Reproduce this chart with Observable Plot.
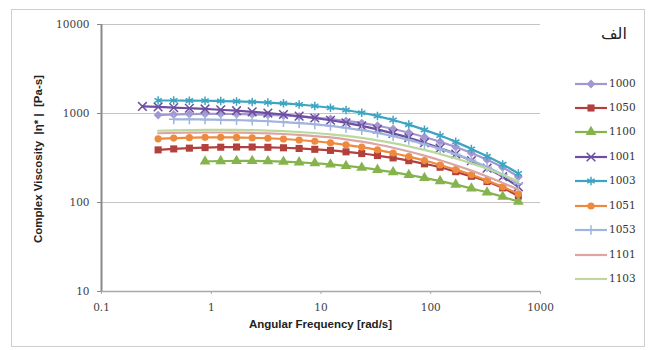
<!DOCTYPE html>
<html><head><meta charset="utf-8">
<script src="https://cdn.jsdelivr.net/npm/d3@7"></script>
<script src="https://cdn.jsdelivr.net/npm/@observablehq/plot@0.6"></script>
<style>
body{margin:0;background:#fff;}
#wrap{position:relative;width:654px;height:350px;overflow:hidden;background:#fff;}
#frame{position:absolute;left:11px;top:9px;width:634px;height:338px;border:1px solid #cfcfcf;box-sizing:border-box;}
#chart{position:absolute;left:0;top:0;}
#title{position:absolute;left:601px;top:24px;font-family:"DejaVu Sans",sans-serif;font-size:16px;color:#222;direction:rtl;}
#xlabel{position:absolute;left:0;width:641px;top:318px;text-align:center;font-family:"Liberation Sans",Arial,sans-serif;font-weight:bold;font-size:11.5px;color:#222;}
#ylabel{position:absolute;left:38px;top:159px;transform:translate(-50%,-50%) rotate(-90deg);white-space:nowrap;font-family:"Liberation Sans",Arial,sans-serif;font-weight:bold;font-size:11.5px;color:#222;}
#legend{position:absolute;left:572px;top:0;}
.li{position:absolute;left:0;height:16px;width:80px;}
.li svg{position:absolute;left:0;top:0;}
.li span{position:absolute;left:37px;top:1px;font-family:"DejaVu Serif",serif;font-size:10.5px;color:#333;}
</style></head>
<body>
<div id="wrap"><div id="frame"></div><div id="chart"></div><div id="title">الف</div>
<div id="xlabel">Angular Frequency [rad/s]</div>
<div id="ylabel">Complex Viscosity&nbsp; |η* |&nbsp; [Pa-s]</div>
<div id="legend"></div></div>
<script>
const freqs=[0.236,0.328,0.455,0.632,0.878,1.22,1.70,2.36,3.28,4.55,6.32,8.78,12.2,16.9,23.5,32.7,45.4,63.1,87.6,121.6,168.9,234.6,325.8,452.4,628.3];
const seriesNames=["1000","1050","1100","1001","1003","1051","1053","1101","1103"];
const seriesColors=["#a397d2","#b2403c","#86b44c","#6d4ea0","#3da5c2","#ee8a3e","#a0b5dd","#dba5a2","#bcd89e"];
const seriesSymbols=["diamond2","square","triangle","times","asterisk","circle","plus",null,null];
const xTicks=[0.1,1,10,100,1000];
const yTicks=[10,100,1000,10000];
// values aligned to freqs (null = not measured)
const v1000=[null,960,975,985,990,990,985,978,966,950,928,900,866,826,780,728,670,608,545,482,420,360,302,248,195];
const v1050=[null,390,400,408,414,418,420,420,417,412,405,396,385,371,355,337,317,295,272,249,222,197,172,146,118];
const v1100=[null,null,null,null,290,292,293,293,291,288,283,276,268,258,246,233,219,204,189,174,159,144,130,116,102];
const v1001=[1200,1185,1165,1145,1125,1100,1075,1045,1012,975,935,890,840,785,725,662,598,534,470,408,350,295,243,195,150];
const v1003=[null,1400,1400,1395,1390,1380,1368,1350,1328,1300,1262,1215,1160,1095,1020,935,845,750,655,565,480,400,330,268,212];
const v1051=[null,520,530,535,540,540,538,534,527,517,504,488,468,445,419,390,360,328,296,264,234,205,177,150,125];
const v1053=[null,null,860,860,855,850,842,832,818,800,780,755,725,690,650,605,556,505,452,400,348,298,250,205,162];
const v1101=[null,600,605,610,612,612,610,605,598,588,575,558,538,512,482,448,412,374,336,298,262,228,196,166,140];
const v1103=[null,640,645,650,655,655,655,650,643,633,620,604,584,560,532,500,465,428,390,350,312,275,240,205,172];
const seriesValues=[v1000,v1050,v1100,v1001,v1003,v1051,v1053,v1101,v1103];

const rows=[];
seriesNames.forEach((s,i)=>seriesValues[i].forEach((v,j)=>{ if(v!=null) rows.push({series:s,f:freqs[j],v,sym:seriesSymbols[i]}); }));
const filledSyms=new Set(["diamond2","square","triangle","circle"]);
const symR={diamond2:4,square:4,triangle:4,circle:3.6,times:4,asterisk:4,plus:3.2};
const tickFont={fontFamily:"DejaVu Serif, serif",fontSize:10.5,fill:"#404040"};

const chart=Plot.plot({
  width:654,height:350,
  marginLeft:101,marginRight:114,marginTop:24,marginBottom:59,
  style:{background:"transparent",fontFamily:"DejaVu Serif, serif",fontSize:"10.5px",color:"#404040"},
  x:{type:"log",domain:[0.1,1000]},
  y:{type:"log",domain:[10,10000]},
  color:{domain:seriesNames,range:seriesColors},
  marks:[
    Plot.ruleY([100,1000,10000],{stroke:"#c4c4c4",strokeWidth:1.2}),
    Plot.axisY({ticks:yTicks,tickFormat:d=>String(d),tickSize:4,tickPadding:8,label:null,stroke:"#888",...tickFont}),
    Plot.axisX({ticks:xTicks,tickFormat:d=>String(d),tickSize:3,tickPadding:9,label:null,stroke:"#aaa",...tickFont}),
    ...seriesNames.map((s,i)=>[
      Plot.line(rows.filter(r=>r.series===s),{x:"f",y:"v",stroke:seriesColors[i],strokeWidth:2.2,curve:"monotone-x"}),
      seriesSymbols[i] && filledSyms.has(seriesSymbols[i]) ?
        Plot.dot(rows.filter(r=>r.series===s),{x:"f",y:"v",symbol:()=>seriesSymbols[i],fill:seriesColors[i],stroke:"none",r:symR[seriesSymbols[i]]}) : null,
      seriesSymbols[i] && !filledSyms.has(seriesSymbols[i]) ?
        Plot.dot(rows.filter(r=>r.series===s),{x:"f",y:"v",symbol:()=>seriesSymbols[i],stroke:seriesColors[i],fill:"none",strokeWidth:1.5,r:symR[seriesSymbols[i]]}) : null
    ]),
    Plot.ruleX([0.1],{stroke:"#8a8a8a",strokeWidth:2}),
    Plot.ruleY([10],{stroke:"#a8a8a8",strokeWidth:1.5})
  ]
});
document.getElementById("chart").appendChild(chart);

// legend
const legendY=[84,108,132,157,181,206,230,255,279];
const symMap={diamond2:d3.symbolDiamond2,square:d3.symbolSquare,triangle:d3.symbolTriangle,times:d3.symbolTimes,asterisk:d3.symbolAsterisk,circle:d3.symbolCircle,plus:d3.symbolPlus};
const leg=d3.select("#legend");
seriesNames.forEach((s,i)=>{
  const it=leg.append("div").attr("class","li").style("top",(legendY[i]-8)+"px");
  const svg=it.append("svg").attr("width",36).attr("height",16);
  svg.append("line").attr("x1",3).attr("x2",35).attr("y1",8).attr("y2",8).attr("stroke",seriesColors[i]).attr("stroke-width",2.2);
  const sy=seriesSymbols[i];
  if(sy){
    const r=symR[sy];
    const p=svg.append("path").attr("transform","translate(19,8)").attr("d",d3.symbol(symMap[sy],Math.PI*r*r)());
    if(filledSyms.has(sy)) p.attr("fill",seriesColors[i]); else p.attr("fill","none").attr("stroke",seriesColors[i]).attr("stroke-width",1.5);
  }
  it.append("span").text(s);
});
</script>
</body></html>
